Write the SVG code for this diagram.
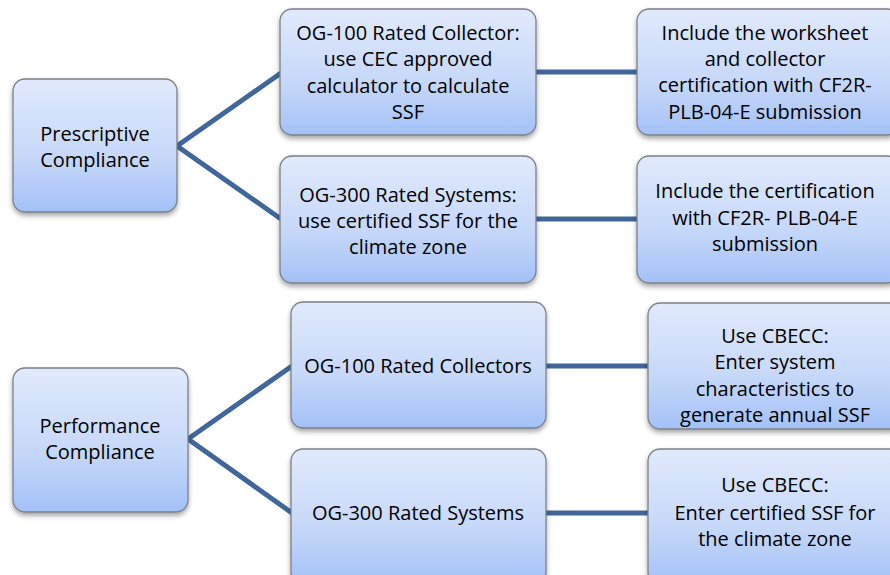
<svg xmlns="http://www.w3.org/2000/svg" width="890" height="575" viewBox="0 0 890 575">
<defs>
<linearGradient id="g" x1="0" y1="0" x2="0" y2="1">
<stop offset="0" stop-color="#e1eafc"/>
<stop offset="0.6" stop-color="#c5d7f9"/>
<stop offset="1" stop-color="#a3c1f7"/>
</linearGradient>
<filter id="sh" x="-10%" y="-10%" width="120%" height="130%">
<feDropShadow dx="0" dy="3" stdDeviation="2.5" flood-color="#000" flood-opacity="0.35"/>
</filter>
</defs>
<style>
.box{fill:url(#g);stroke:#7b8088;stroke-width:1.3;filter:url(#sh)}
text{font-family:"Open Sans","Liberation Sans",Arial,sans-serif;font-size:20px;fill:#000;text-anchor:middle}
.c{stroke:#41679a;stroke-width:5;fill:none;stroke-linecap:butt}
</style>
<rect width="890" height="575" fill="#fff"/>
<g id="connectors">
<polyline class="c" points="281,73 177,146 281,219"/>
<line class="c" x1="536" y1="72" x2="638" y2="72"/>
<line class="c" x1="536" y1="219" x2="638" y2="219"/>
<polyline class="c" points="292,366 188,439 292,513"/>
<line class="c" x1="546" y1="366" x2="649" y2="366"/>
<line class="c" x1="546" y1="513" x2="649" y2="513"/>
</g>
<g id="prescriptive">
<rect class="box" x="13" y="79" width="164" height="133" rx="12"/>
<text x="95" y="141">Prescriptive</text>
<text x="95" y="167">Compliance</text>
</g>
<g id="og100-collector">
<rect class="box" x="280" y="9" width="256" height="126" rx="12"/>
<text x="408" y="40">OG-100 Rated Collector:</text>
<text x="408" y="66">use CEC approved</text>
<text x="408" y="93">calculator to calculate</text>
<text x="408" y="119">SSF</text>
</g>
<g id="include-worksheet">
<rect class="box" x="637" y="9" width="262" height="126" rx="12"/>
<text x="765" y="40">Include the worksheet</text>
<text x="765" y="66">and collector</text>
<text x="765" y="92">certification with CF2R-</text>
<text x="765" y="119">PLB-04-E submission</text>
</g>
<g id="og300-systems">
<rect class="box" x="280" y="156" width="256" height="127" rx="12"/>
<text x="408" y="202">OG-300 Rated Systems:</text>
<text x="408" y="228">use certified SSF for the</text>
<text x="408" y="254">climate zone</text>
</g>
<g id="include-certification">
<rect class="box" x="637" y="156" width="262" height="127" rx="12"/>
<text x="765" y="198">Include the certification</text>
<text x="765" y="225">with CF2R- PLB-04-E</text>
<text x="765" y="251">submission</text>
</g>
<g id="performance">
<rect class="box" x="13" y="368" width="175" height="144" rx="12"/>
<text x="100" y="433">Performance</text>
<text x="100" y="459">Compliance</text>
</g>
<g id="og100-collectors">
<rect class="box" x="291" y="302" width="255" height="126" rx="12"/>
<text x="418" y="373">OG-100 Rated Collectors</text>
</g>
<g id="og300-rated-systems">
<rect class="box" x="291" y="449" width="255" height="135" rx="12"/>
<text x="418" y="520">OG-300 Rated Systems</text>
</g>
<g id="cbecc-1">
<rect class="box" x="648" y="303" width="255" height="126" rx="12"/>
<text x="775" y="343">Use CBECC:</text>
<text x="775" y="369">Enter system</text>
<text x="775" y="396">characteristics to</text>
<text x="775" y="422">generate annual SSF</text>
</g>
<g id="cbecc-2">
<rect class="box" x="648" y="449" width="255" height="135" rx="12"/>
<text x="775" y="492">Use CBECC:</text>
<text x="775" y="520">Enter certified SSF for</text>
<text x="775" y="546">the climate zone</text>
</g>
</svg>
